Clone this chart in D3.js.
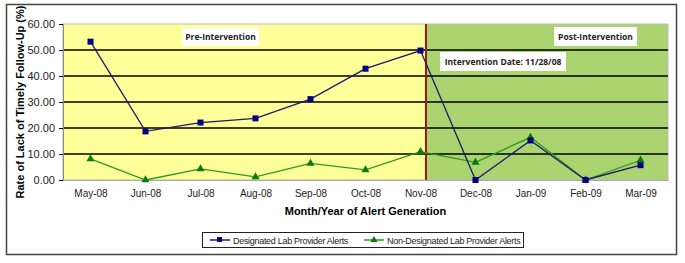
<!DOCTYPE html>
<html>
<head>
<meta charset="utf-8">
<script src="https://cdn.jsdelivr.net/npm/d3@7"></script>
<style>
  body { margin: 0; background: #fff; }
  svg { font-family: "Liberation Sans", Arial, sans-serif; }
</style>
</head>
<body>
<svg id="chart" width="685" height="263"></svg>
<script>
const months = ["May-08", "Jun-08", "Jul-08", "Aug-08", "Sep-08", "Oct-08", "Nov-08", "Dec-08", "Jan-09", "Feb-09", "Mar-09"];
const designated = [53.2, 18.7, 22.1, 23.7, 31.1, 42.8, 49.8, 0, 15.2, 0, 5.7];
const nonDesignated = [8.1, 0, 4.3, 1.2, 6.4, 3.9, 10.9, 6.8, 16.4, 0, 7.6];
const yTicks = [0, 10, 20, 30, 40, 50, 60];
const interventionAt = 6.1; // index position of 11/28/08 divider

const svg = d3.select("#chart"),
      margin = {top: 24, right: 17, bottom: 83, left: 63},
      width = svg.attr("width") - margin.left - margin.right,
      height = svg.attr("height") - margin.top - margin.bottom;

// outer frame
svg.append("rect")
   .attr("x", 6.5).attr("y", 4.5)
   .attr("width", 670).attr("height", 250)
   .attr("fill", "none").attr("stroke", "#444").attr("stroke-width", 1.5);

const g = svg.append("g")
             .attr("transform", `translate(${margin.left},${margin.top})`);

const x = d3.scalePoint()
            .domain(months)
            .range([0, width])
            .padding(0.5);

const y = d3.scaleLinear()
            .domain([0, 60])
            .range([height, 0]);

const step = x.step();
const xAt = i => x(months[0]) + i * step;
const divX = xAt(interventionAt);

// backgrounds
g.append("rect")
 .attr("x", 0).attr("y", 0)
 .attr("width", divX).attr("height", height)
 .attr("fill", "#FFFF99");
g.append("rect")
 .attr("x", divX).attr("y", 0)
 .attr("width", width - divX).attr("height", height)
 .attr("fill", "#A9D46F");
g.append("rect")
 .attr("width", width).attr("height", height)
 .attr("fill", "none").attr("stroke", "#bbb");

// gridlines
g.selectAll(".grid")
 .data(yTicks.filter(d => d > 0 && d < 60))
 .enter()
 .append("line")
 .attr("x1", 0).attr("x2", width)
 .attr("y1", d => y(d)).attr("y2", d => y(d))
 .attr("stroke", "#000").attr("stroke-width", 1.3);

// Y Axis
const yAxis = g.append("g")
 .call(d3.axisLeft(y).tickValues(yTicks).tickFormat(d3.format(".2f")).tickSize(4).tickPadding(4));
yAxis.select(".domain").attr("stroke", "#888");
yAxis.selectAll("text").attr("font-size", 11).attr("fill", "#222");

// X Axis
const xAxis = g.append("g")
 .attr("transform", `translate(0,${height})`)
 .call(d3.axisBottom(x).tickSize(0).tickPadding(10));
xAxis.select(".domain").attr("stroke", "#aaa");
xAxis.selectAll("text").attr("font-size", 10).attr("fill", "#222");

// intervention line
g.append("line")
 .attr("x1", divX).attr("x2", divX)
 .attr("y1", 0).attr("y2", height)
 .attr("stroke", "#B01010").attr("stroke-width", 2);

// annotation boxes
const notes = [
  {text: "Pre-Intervention", x: 119, y: 4, w: 77, h: 18},
  {text: "Post-Intervention", x: 491, y: 3, w: 83, h: 19},
  {text: "Intervention Date: 11/28/08", x: 377, y: 28, w: 126, h: 19}
];
notes.forEach(n => {
  g.append("rect").attr("x", n.x).attr("y", n.y).attr("width", n.w).attr("height", n.h).attr("fill", "#fff");
  g.append("text").attr("x", n.x + n.w / 2).attr("y", n.y + n.h / 2 + 3)
   .attr("text-anchor", "middle").attr("font-size", 8.5).attr("font-weight", "bold")
   .attr("font-family", "'Open Sans', sans-serif").attr("fill", "#222")
   .text(n.text);
});

// lines
const line = d3.line().x((d, i) => x(months[i])).y(d => y(d));

g.append("path").datum(nonDesignated)
 .attr("d", line).attr("fill", "none").attr("stroke", "#2E9A1A").attr("stroke-width", 1.3);
g.append("path").datum(designated)
 .attr("d", line).attr("fill", "none").attr("stroke", "#1A1A6E").attr("stroke-width", 1.3);

const tri = d3.symbol().type(d3.symbolTriangle).size(28);
g.selectAll(".tri")
 .data(nonDesignated)
 .enter()
 .append("path")
 .attr("transform", (d, i) => `translate(${x(months[i])},${y(d)})`)
 .attr("d", tri).attr("fill", "#0B7A0B");

g.selectAll(".sq")
 .data(designated)
 .enter()
 .append("rect")
 .attr("x", (d, i) => x(months[i]) - 3)
 .attr("y", d => y(d) - 3)
 .attr("width", 6).attr("height", 6)
 .attr("fill", "#000080");

// Axis labels
g.append("text")
 .attr("x", width / 2)
 .attr("y", height + 35)
 .attr("text-anchor", "middle")
 .attr("font-size", 11).attr("font-weight", "bold")
 .text("Month/Year of Alert Generation");

g.append("text")
 .attr("transform", "rotate(-90)")
 .attr("x", -height / 2)
 .attr("y", -39)
 .attr("text-anchor", "middle")
 .attr("font-size", 11).attr("font-weight", "bold")
 .text("Rate of Lack of Timely Follow-Up (%)");

// Legend
const leg = svg.append("g");
leg.append("rect")
   .attr("x", 202.5).attr("y", 232.5).attr("width", 321).attr("height", 15)
   .attr("fill", "#fff").attr("stroke", "#222");
const legItems = [
  {label: "Designated Lab Provider Alerts", color: "#1A1A6E", mark: "sq", x: 210},
  {label: "Non-Designated Lab Provider Alerts", color: "#2E9A1A", mark: "tri", x: 364}
];
legItems.forEach(it => {
  leg.append("line").attr("x1", it.x).attr("x2", it.x + 20).attr("y1", 240).attr("y2", 240)
     .attr("stroke", it.color).attr("stroke-width", 1.5);
  if (it.mark === "sq") {
    leg.append("rect").attr("x", it.x + 7).attr("y", 237).attr("width", 5).attr("height", 5).attr("fill", "#000080");
  } else {
    leg.append("path").attr("transform", `translate(${it.x + 10},${240})`)
       .attr("d", d3.symbol().type(d3.symbolTriangle).size(22)).attr("fill", "#0B7A0B");
  }
  leg.append("text").attr("x", it.x + 23).attr("y", 243.5)
     .attr("font-size", 9).attr("fill", "#222").attr("letter-spacing", -0.3)
     .text(it.label);
});
</script>
</body>
</html>
